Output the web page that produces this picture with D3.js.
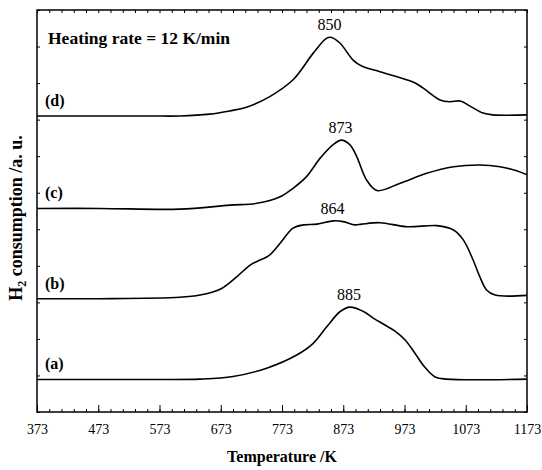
<!DOCTYPE html>
<html>
<head>
<meta charset="utf-8">
<script src="https://cdn.jsdelivr.net/npm/d3@7"></script>
<style>
  body { margin: 0; background: #fff; }
  svg { font-family: "Liberation Serif", "Times New Roman", serif; }
  .domain { display: none; }
</style>
</head>
<body>
<div id="chart"></div>
<script>
// Data: [temperature K, signal a.u.]
var curveA = [[373,0.89],[557,0.89],[639,0.9],[693,0.97],[748,1.2],[797,1.56],[824,1.88],[846,2.33],
  [868,2.75],[884,2.87],[906,2.75],[922,2.57],[941,2.38],[957,2.22],[974,1.97],[990,1.61],
  [1006,1.23],[1023,0.96],[1042,0.9],[1173,0.9]];
var curveB = [[373,3.1],[476,3.1],[606,3.14],[639,3.2],[672,3.36],[699,3.7],[721,4.02],[737,4.16],
  [751,4.27],[770,4.62],[791,5.03],[808,5.12],[830,5.14],[857,5.23],[873,5.21],[892,5.12],
  [903,5.14],[933,5.18],[977,5.07],[1026,5.1],[1053,4.98],[1069,4.71],[1085,4.16],[1096,3.7],
  [1107,3.34],[1121,3.2],[1173,3.19]];
var curveC = [[373,5.57],[476,5.57],[606,5.55],[688,5.66],[732,5.71],[770,5.89],[791,6.12],[813,6.44],
  [835,6.94],[856,7.31],[870,7.44],[884,7.31],[895,6.99],[911,6.35],[928,6.06],[966,6.26],
  [1009,6.53],[1053,6.71],[1096,6.76],[1129,6.71],[1156,6.6],[1173,6.49]];
var curveD = [[373,8.1],[476,8.1],[557,8.1],[606,8.1],[655,8.15],[688,8.24],[715,8.34],[753,8.63],
  [791,9.09],[824,9.82],[846,10.23],[854,10.25],[868,10.09],[889,9.63],[903,9.47],[933,9.31],
  [987,9.03],[1003,8.87],[1031,8.54],[1047,8.49],[1064,8.51],[1080,8.37],[1101,8.18],[1117,8.13],
  [1173,8.13]];

var curveNames = ["(a)", "(b)", "(c)", "(d)"];
var peakLabels = ["885", "864", "873", "850"];
var peakT = [884, 857, 870, 852];
var peakU = [2.87, 5.23, 7.44, 10.25];
var baseU = [0.89, 3.1, 5.57, 8.1];

var xTicks = [373, 473, 573, 673, 773, 873, 973, 1073, 1173];

var width = 542,
    height = 470,
    margin = {top: 10, right: 15, bottom: 58, left: 37};

var x = d3.scaleLinear()
    .domain([373, 1173])
    .range([margin.left, width - margin.right]);

var y = d3.scaleLinear()
    .domain([0, 11])
    .range([height - margin.bottom, margin.top]);

var svg = d3.select("#chart").append("svg")
    .attr("width", width)
    .attr("height", height);

var minor = d3.range(373, 1174, 20);
var yTicks = d3.range(0, 12, 1);

// bottom axis, ticks inward
svg.append("g")
    .attr("transform", "translate(0," + y(0) + ")")
    .call(d3.axisBottom(x).tickValues(minor).tickSize(-3).tickFormat(""));
svg.append("g")
    .attr("class", "xaxis")
    .attr("transform", "translate(0," + y(0) + ")")
    .call(d3.axisBottom(x).tickValues(xTicks).tickSizeInner(-7).tickSizeOuter(0).tickPadding(12).tickFormat(d3.format("d")));

// top axis
svg.append("g")
    .attr("transform", "translate(0," + y(11) + ")")
    .call(d3.axisTop(x).tickValues(minor).tickSize(-3).tickFormat(""));

// left & right axes (no labels)
svg.append("g")
    .attr("transform", "translate(" + x(373) + ",0)")
    .call(d3.axisLeft(y).tickValues(yTicks).tickSize(-3).tickFormat(""));
svg.append("g")
    .attr("transform", "translate(" + x(1173) + ",0)")
    .call(d3.axisRight(y).tickValues(yTicks).tickSize(-3).tickFormat(""));

svg.selectAll(".tick line").attr("stroke", "#000").attr("stroke-width", 1);
svg.selectAll(".xaxis text")
    .attr("font-size", 14)
    .attr("font-family", "Liberation Serif, Times New Roman, serif")
    .attr("fill", "#000");

// frame
svg.append("rect")
    .attr("x", x(373))
    .attr("y", y(11))
    .attr("width", x(1173) - x(373))
    .attr("height", y(0) - y(11))
    .attr("fill", "none")
    .attr("stroke", "#000")
    .attr("stroke-width", 1.5);

var line = d3.line()
    .x(function(d) { return x(d[0]); })
    .y(function(d) { return y(d[1]); })
    .curve(d3.curveCatmullRom.alpha(0.5));

svg.selectAll(".curve")
    .data([curveA, curveB, curveC, curveD])
  .enter().append("path")
    .attr("class", "curve")
    .attr("d", line)
    .attr("fill", "none")
    .attr("stroke", "#000")
    .attr("stroke-width", 1.6);

// curve names
svg.selectAll(".cname")
    .data(curveNames)
  .enter().append("text")
    .attr("x", x(373) + 8)
    .attr("y", function(d, i) { return y(baseU[i]) - 10; })
    .attr("font-size", 16)
    .attr("font-weight", "bold")
    .text(function(d) { return d; });

// peak temperatures
svg.selectAll(".plabel")
    .data(peakLabels)
  .enter().append("text")
    .attr("x", function(d, i) { return x(peakT[i]) - 1; })
    .attr("y", function(d, i) { return y(peakU[i]) - 7; })
    .attr("text-anchor", "middle")
    .attr("font-size", 16)
    .text(function(d) { return d; });

svg.append("text")
    .attr("x", 48)
    .attr("y", 44)
    .attr("font-size", 17.5)
    .attr("font-weight", "bold")
    .text("Heating rate = 12 K/min");

svg.append("text")
    .attr("x", (x(373) + x(1173)) / 2)
    .attr("y", 462)
    .attr("text-anchor", "middle")
    .attr("font-size", 16)
    .attr("font-weight", "bold")
    .text("Temperature /K");

var yl = svg.append("text")
    .attr("transform", "translate(22," + 218 + ") rotate(-90)")
    .attr("text-anchor", "middle")
    .attr("font-size", 18)
    .attr("font-weight", "bold");
yl.append("tspan").text("H");
yl.append("tspan").attr("font-size", 12).attr("dy", 4).text("2");
yl.append("tspan").attr("dy", -4).text(" consumption /a. u.");
</script>
</body>
</html>
